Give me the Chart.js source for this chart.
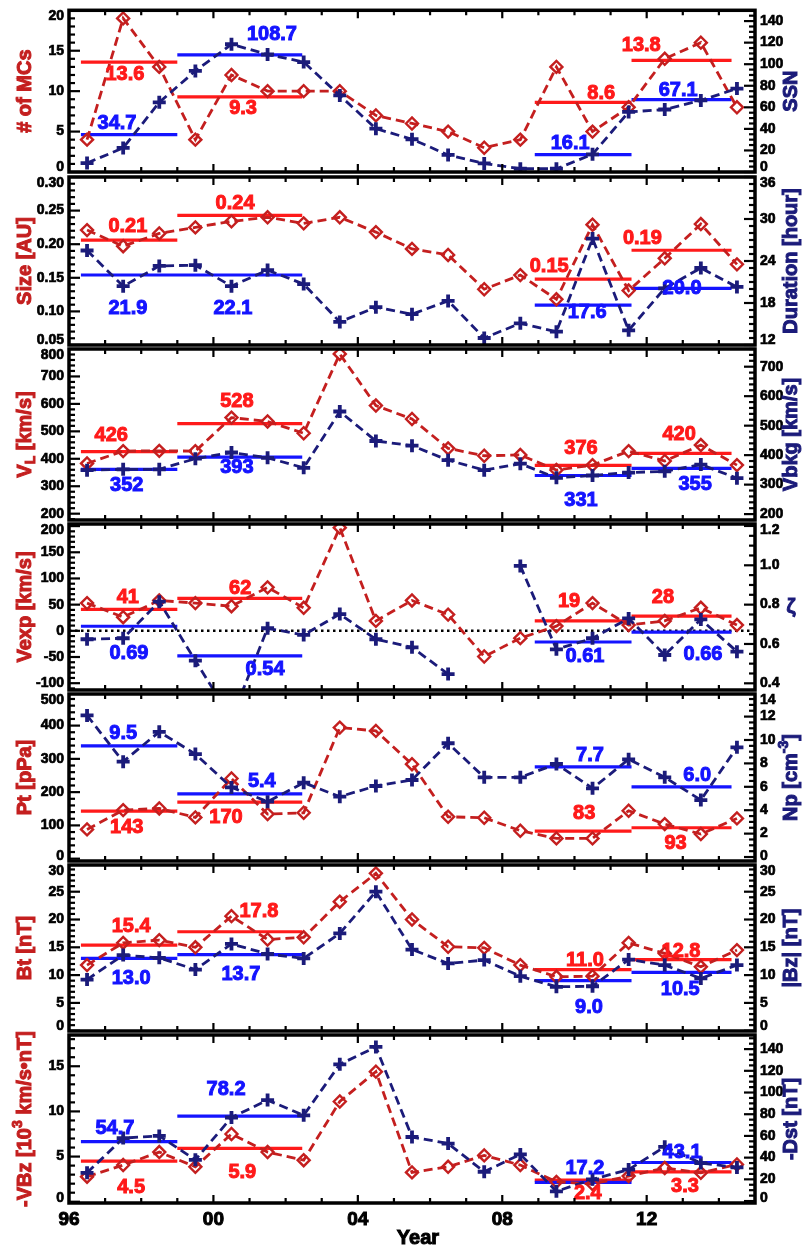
<!DOCTYPE html>
<html>
<head>
<meta charset="utf-8">
<script src="https://cdn.jsdelivr.net/npm/chart.js@4.4.1/dist/chart.umd.min.js"></script>
<style>
  body { margin: 0; background: #fff; }
  #wrap { position: relative; width: 804px; height: 1249px; }
  #wrap canvas { position: absolute; left: 0; top: 0; }
</style>
</head>
<body>
<div id="wrap"></div>
<script>
// ---- data ----
const years = [1996.5, 1997.5, 1998.5, 1999.5, 2000.5, 2001.5, 2002.5, 2003.5, 2004.5, 2005.5,
               2006.5, 2007.5, 2008.5, 2009.5, 2010.5, 2011.5, 2012.5, 2013.5, 2014.5];
const xTickValues = [1996, 2000, 2004, 2008, 2012];
const xTickLabels = ['96', '00', '04', '08', '12'];

// the four averaging intervals
const segStart = [1996.33, 1999.0, 2008.9, 2011.58];
const segEnd = [1999.0, 2002.46, 2011.58, 2014.35];

// panel 1: number of MCs / sunspot number
const mcCount = [4, 19, 13, 4, 12, 10, 10, 10, 7, 6, 5, 3, 4, 13, 5, 8, 14, 16, 8];
const ssn = [8.3, 22.3, 64.6, 93.8, 118.5, 109, 102, 71, 40.2, 30.4, 15.8, 8, 3, 3, 16.4, 55.7, 58, 66.4, 77.4];
const mcAvg = [13.6, 9.3, 8.6, 13.8];
const mcAvgText = ['13.6', '9.3', '8.6', '13.8'];
const ssnAvg = [34.7, 108.7, 16.1, 67.1];
const ssnAvgText = ['34.7', '108.7', '16.1', '67.1'];
const mcTicks = [0, 5, 10, 15, 20];
const ssnTicks = [0, 20, 40, 60, 80, 100, 120, 140];

// panel 2: size / duration
const mcSize = [0.221, 0.197, 0.216, 0.225, 0.234, 0.240, 0.231, 0.240, 0.218, 0.193,
                0.184, 0.133, 0.154, 0.118, 0.229, 0.131, 0.179, 0.230, 0.170];
const duration = [25.5, 20.4, 23.3, 23.4, 20.4, 22.7, 20.7, 15.3, 17.4, 16.4,
                  18.3, 13.0, 15.1, 13.9, 27.2, 14.1, 20.1, 23.0, 20.3];
const sizeAvg = [0.206, 0.243, 0.148, 0.191];
const sizeAvgText = ['0.21', '0.24', '0.15', '0.19'];
const durAvg = [22.0, 22.0, 17.7, 20.1];
const durAvgText = ['21.9', '22.1', '17.6', '20.0'];
const sizeTicks = [0.05, 0.10, 0.15, 0.20, 0.25, 0.30];
const durTicks = [12, 18, 24, 30, 36];

// panel 3: V_L / Vbkg
const vL = [383, 428, 429, 428, 550, 536, 493, 782, 594, 545, 438, 411, 414, 359, 377, 428, 392, 450, 377];
const vBkg = [349, 352, 352, 388, 409, 391, 357, 548, 448, 432, 383, 349, 371, 323, 331, 341, 345, 368, 322];
const vLAvg = [426, 528, 376, 420];
const vLAvgText = ['426', '528', '376', '420'];
const vBkgAvg = [352, 393, 331, 355];
const vBkgAvgText = ['352', '393', '331', '355'];
const vLTicks = [200, 300, 400, 500, 600, 700, 800];
const vBkgTicks = [200, 300, 400, 500, 600, 700];

// panel 4: Vexp / zeta
const vExp = [53, 26, 58, 53, 47, 83, 44, 197, 19, 58, 31, -49, -14, 9, 53, 11, 19, 44, 11];
const zeta = [0.624, 0.629, 0.815, 0.515, 0.22, 0.68, 0.646, 0.752, 0.624, 0.583,
              0.447, null, 0.997, 0.573, 0.629, 0.73, 0.544, 0.725, 0.561];
const vExpAvg = [41, 62, 19, 28];
const vExpAvgText = ['41', '62', '19', '28'];
const zetaAvg = [0.69, 0.54, 0.61, 0.66];
const zetaAvgText = ['0.69', '0.54', '0.61', '0.66'];
const vExpRef = 0;
const vExpTicks = [-100, -50, 0, 50, 100, 150, 200];
const zetaTicks = [0.4, 0.6, 0.8, 1.0, 1.2];

// panel 5: Pt / Np
const pT = [88, 146, 151, 124, 241, 134, 138, 394, 384, 284, 126, 123, 84, 61, 61, 144, 104, 74, 121];
const nP = [12.1, 8.15, 10.7, 8.8, 5.95, 4.73, 6.35, 5.16, 6.07, 6.58,
            9.72, 6.81, 6.81, 7.95, 5.87, 8.35, 6.81, 4.87, 9.37];
const pTAvg = [143, 170, 83, 93];
const pTAvgText = ['143', '170', '83', '93'];
const nPAvg = [9.5, 5.4, 7.7, 6.0];
const nPAvgText = ['9.5', '5.4', '7.7', '6.0'];
const pTTicks = [0, 100, 200, 300, 400, 500];
const nPTicks = [0, 2, 4, 6, 8, 10, 12, 14];

// panel 6: Bt / |Bz|
const bT = [11.8, 15.8, 16.3, 15.0, 20.6, 16.4, 16.8, 23.2, 28.3, 20.0,
            15.1, 14.9, 11.8, 9.7, 9.8, 15.8, 13.9, 11.5, 14.5];
const bZ = [9.2, 13.6, 13.1, 11.0, 15.6, 13.8, 13.0, 17.5, 25.0, 14.6,
            12.1, 12.7, 9.8, 7.9, 8.0, 12.8, 11.8, 9.4, 11.8];
const bTAvg = [15.4, 17.8, 11.0, 12.8];
const bTAvgText = ['15.4', '17.8', '11.0', '12.8'];
const bZAvg = [13.0, 13.7, 9.0, 10.5];
const bZAvgText = ['13.0', '13.7', '9.0', '10.5'];
const bTicks = [0, 5, 10, 15, 20, 25, 30];

// panel 7: -VBz / -Dst
const vBz = [2.77, 4.06, 5.5, 3.87, 7.5, 5.5, 4.6, 11.1, 14.4, 3.25,
             3.87, 5.13, 4.06, 2.2, 1.96, 2.84, 3.73, 3.2, 4.13];
const dst = [26, 58, 60, 38, 77, 93, 79, 126, 142, 59, 53, 27, 43, 9, 20, 29, 50, 35, 31];
const vBzAvg = [4.5, 5.9, 2.4, 3.3];
const vBzAvgText = ['4.5', '5.9', '2.4', '3.3'];
const dstAvg = [54.7, 78.2, 17.2, 35.5];
const dstAvgText = ['54.7', '78.2', '17.2', '43.1'];
const vBzTicks = [0, 5, 10, 15];
const dstTicks = [0, 20, 40, 60, 80, 100, 120, 140];

// ---- styles / layout ----
const FONT = "'Liberation Sans', Arial, Helvetica, sans-serif";
const DARK_RED = '#c41f1f';
const RED = '#ff1a1a';
const NAVY = '#1b1b7a';
const BLUE = '#1414ff';
const PLOT_LEFT = 69, PLOT_RIGHT = 755;
const tops = [5, 177, 349, 524, 694, 865, 1035];
const bottoms = [172, 345, 520, 690, 861, 1031, 1203];

Chart.defaults.font.family = FONT;

const panels = [
  {
    red: mcCount, blue: ssn, redAvg: mcAvg, redText: mcAvgText, blueAvg: ssnAvg, blueText: ssnAvgText,
    left: { min: 0, max: 20, ticks: mcTicks, minor: 1, dec: 0, title: [{ t: '# of MCs' }] },
    right: { min: 0, max: 150, ticks: ssnTicks, minor: 5, dec: 0, title: [{ t: 'SSN' }] },
    redLab: [[1997.55, 12], [2000.82, 12], [2010.74, -9], [2011.85, -15]],
    blueLab: [[1997.33, -11], [2001.62, -20], [2009.88, -11], [2012.87, -9]]
  },
  {
    red: mcSize, blue: duration, redAvg: sizeAvg, redText: sizeAvgText, blueAvg: durAvg, blueText: durAvgText,
    left: { min: 0.05, max: 0.30, ticks: sizeTicks, minor: 0.01, dec: 2, title: [{ t: 'Size [AU]' }] },
    right: { min: 12, max: 36, ticks: durTicks, minor: 1, dec: 0, title: [{ t: 'Duration [hour]' }] },
    redLab: [[1997.63, -14], [2000.6, -12], [2009.3, -13], [2011.88, -12]],
    blueLab: [[1997.63, 33], [2000.54, 33], [2010.35, 7], [2012.98, 0]]
  },
  {
    red: vL, blue: vBkg, redAvg: vLAvg, redText: vLAvgText, blueAvg: vBkgAvg, blueText: vBkgAvgText,
    left: { min: 177, max: 800, ticks: vLTicks, minor: 20, dec: 0, title: [{ t: 'V' }, { t: 'L', sub: true }, { t: ' [km/s]' }] },
    right: { min: 180, max: 760, ticks: vBkgTicks, minor: 20, dec: 0, title: [{ t: 'Vbkg [km/s]' }] },
    redLab: [[1997.17, -16], [2000.65, -22], [2010.18, -17], [2012.9, -19]],
    blueLab: [[1997.6, 16], [2000.65, 10], [2010.18, 25], [2013.34, 16]]
  },
  {
    red: vExp, blue: zeta, redAvg: vExpAvg, redText: vExpAvgText, blueAvg: zetaAvg, blueText: zetaAvgText,
    left: { min: -113, max: 204, ticks: vExpTicks, minor: 10, dec: 0, title: [{ t: 'Vexp [km/s]' }] },
    right: { min: 0.366, max: 1.21, ticks: zetaTicks, minor: 0.05, dec: 1, title: [{ t: 'ζ' }], upright: true },
    zeroRef: true,
    redLab: [[1997.63, -12], [2000.74, -10], [2009.85, -19], [2012.45, -19]],
    blueLab: [[1997.66, 27], [2001.43, 14], [2010.29, 14], [2013.56, 22]]
  },
  {
    red: pT, blue: nP, redAvg: pTAvg, redText: pTAvgText, blueAvg: nPAvg, blueText: nPAvgText,
    left: { min: -7, max: 495, ticks: pTTicks, minor: 20, dec: 0, title: [{ t: 'Pt [pPa]' }] },
    right: { min: -0.34, max: 13.93, ticks: nPTicks, minor: 0.5, dec: 0, title: [{ t: 'Np [cm' }, { t: '-3', sup: true }, { t: ']' }] },
    redLab: [[1997.6, 16], [2000.35, 15], [2010.27, -18], [2012.8, 16]],
    blueLab: [[1997.5, -12], [2001.34, -12], [2010.43, -11], [2013.4, -11]]
  },
  {
    red: bT, blue: bZ, redAvg: bTAvg, redText: bTAvgText, blueAvg: bZAvg, blueText: bZAvgText,
    left: { min: -0.05, max: 29.8, ticks: bTicks, minor: 1, dec: 0, title: [{ t: 'Bt [nT]' }] },
    right: { min: -0.05, max: 29.8, ticks: bTicks, minor: 1, dec: 0, title: [{ t: '|Bz| [nT]' }] },
    redLab: [[1997.72, -19], [2001.26, -20], [2010.29, -9], [2012.95, -8]],
    blueLab: [[1997.72, 20], [2000.76, 20], [2010.4, 27], [2012.93, 17]]
  },
  {
    red: vBz, blue: dst, redAvg: vBzAvg, redText: vBzAvgText, blueAvg: dstAvg, blueText: dstAvgText,
    left: { min: -0.14, max: 18.46, ticks: vBzTicks, minor: 1, dec: 0, title: [{ t: '-VBz [10' }, { t: '3', sup: true }, { t: ' km/s•nT]' }] },
    right: { min: -1.8, max: 153, ticks: dstTicks, minor: 5, dec: 0, title: [{ t: '-Dst [nT]' }] },
    redLab: [[1997.72, 26], [2000.8, 24], [2010.37, 13], [2013.06, 15]],
    blueLab: [[1997.27, -13], [2000.35, -27], [2010.29, -14], [2012.98, -10]],
    xLabels: true
  }
];

function points(vals) {
  return years.map((x, i) => ({ x, y: vals[i] }));
}

function segments(vals) {
  const d = [];
  vals.forEach((v, i) => {
    d.push({ x: segStart[i], y: v }, { x: segEnd[i], y: v }, { x: segEnd[i], y: null });
  });
  return d;
}

// heavy text: fill plus a thin stroke of the same colour
function heavyText(ctx, text, x, y, weight) {
  ctx.fillText(text, x, y);
  ctx.lineWidth = weight;
  ctx.strokeStyle = ctx.fillStyle;
  ctx.strokeText(text, x, y);
}

// rich text (sub/superscripts), drawn rotated or not, centred on cx, cy
function richText(ctx, parts, cx, cy, rotate, color) {
  ctx.save();
  ctx.translate(cx, cy);
  if (rotate) ctx.rotate(-Math.PI / 2);
  ctx.fillStyle = color;
  ctx.textBaseline = 'middle';
  ctx.textAlign = 'left';
  const fontOf = p => (p.sub || p.sup) ? 'bold 14px ' + FONT : 'bold 20px ' + FONT;
  let total = 0;
  parts.forEach(p => { ctx.font = fontOf(p); total += ctx.measureText(p.t).width; });
  let x = -total / 2;
  parts.forEach(p => {
    ctx.font = fontOf(p);
    const dy = p.sub ? 6 : (p.sup ? -7 : 0);
    heavyText(ctx, p.t, x, dy, 1);
    x += ctx.measureText(p.t).width;
  });
  ctx.restore();
}

function makeDecor(p) {
  return {
    id: 'decor',
    afterDatasetsDraw(chart) {
      const ctx = chart.ctx;
      const a = chart.chartArea;
      const xs = chart.scales.x, yL = chart.scales.yL, yR = chart.scales.yR;
      ctx.save();

      // mean values
      ctx.font = 'bold 20px ' + FONT;
      ctx.textAlign = 'center';
      ctx.textBaseline = 'middle';
      ctx.fillStyle = RED;
      p.redLab.forEach(([yr, dy], i) => {
        heavyText(ctx, p.redText[i], xs.getPixelForValue(yr), yL.getPixelForValue(p.redAvg[i]) + dy, 1);
      });
      ctx.fillStyle = BLUE;
      p.blueLab.forEach(([yr, dy], i) => {
        heavyText(ctx, p.blueText[i], xs.getPixelForValue(yr), yR.getPixelForValue(p.blueAvg[i]) + dy, 1);
      });

      // frame
      ctx.strokeStyle = '#000';
      ctx.lineWidth = 3.5;
      ctx.strokeRect(a.left, a.top, a.right - a.left, a.bottom - a.top);

      // inward tick marks
      ctx.lineWidth = 2.2;
      const yTicks = (scale, cfg, x0, dir) => {
        const n0 = Math.ceil(cfg.min / cfg.minor - 1e-6), n1 = Math.floor(cfg.max / cfg.minor + 1e-6);
        for (let n = n0; n <= n1; n++) {
          const v = n * cfg.minor;
          const major = cfg.ticks.some(t => Math.abs(t - v) < cfg.minor / 10);
          const py = scale.getPixelForValue(v);
          ctx.beginPath();
          ctx.moveTo(x0, py);
          ctx.lineTo(x0 + dir * (major ? 11 : 6), py);
          ctx.stroke();
        }
      };
      yTicks(yL, p.left, a.left, 1);
      yTicks(yR, p.right, a.right, -1);
      for (let yr = 1997; yr <= 2014; yr++) {
        const major = xTickValues.includes(yr);
        const px = xs.getPixelForValue(yr);
        const len = major ? 8 : 5;
        ctx.beginPath();
        ctx.moveTo(px, a.top); ctx.lineTo(px, a.top + len);
        ctx.moveTo(px, a.bottom); ctx.lineTo(px, a.bottom - len);
        ctx.stroke();
      }

      // tick labels
      ctx.fillStyle = '#000';
      ctx.font = 'bold 14px ' + FONT;
      ctx.textBaseline = 'middle';
      const clampY = py => Math.min(Math.max(py, a.top + 6), a.bottom - 5);
      ctx.textAlign = 'right';
      p.left.ticks.forEach(v => {
        heavyText(ctx, v.toFixed(p.left.dec), a.left - 5, clampY(yL.getPixelForValue(v)), 0.7);
      });
      ctx.textAlign = 'left';
      p.right.ticks.forEach(v => {
        heavyText(ctx, v.toFixed(p.right.dec), a.right + 5, clampY(yR.getPixelForValue(v)), 0.7);
      });

      // axis titles
      const cy = (a.top + a.bottom) / 2;
      richText(ctx, p.left.title, 25, cy, true, DARK_RED);
      richText(ctx, p.right.title, 791, cy, !p.right.upright, NAVY);

      // year axis
      if (p.xLabels) {
        ctx.fillStyle = '#000';
        ctx.font = 'bold 19px ' + FONT;
        ctx.textAlign = 'center';
        xTickValues.forEach((v, i) => {
          heavyText(ctx, xTickLabels[i], xs.getPixelForValue(v), a.bottom + 17, 1);
        });
        ctx.font = 'bold 20px ' + FONT;
        heavyText(ctx, 'Year', 418, a.bottom + 35, 1);
      }
      ctx.restore();
    }
  };
}

const wrap = document.getElementById('wrap');
panels.forEach((p, i) => {
  const canvas = document.createElement('canvas');
  canvas.width = 804;
  canvas.height = 1249;
  wrap.appendChild(canvas);

  const datasets = [
    {
      data: points(p.blue), yAxisID: 'yR', borderColor: NAVY, borderWidth: 2.8, borderDash: [9, 5],
      pointStyle: 'cross', pointRadius: 6.5, pointBorderWidth: 3.8, pointBorderColor: NAVY,
      pointBackgroundColor: NAVY, tension: 0, fill: false, spanGaps: false
    },
    {
      data: points(p.red), yAxisID: 'yL', borderColor: DARK_RED, borderWidth: 2.8, borderDash: [9, 5],
      pointStyle: 'rectRot', pointRadius: 6, pointBorderWidth: 2.4, pointBorderColor: DARK_RED,
      pointBackgroundColor: 'rgba(255,255,255,0)', tension: 0, fill: false
    },
    {
      data: segments(p.blueAvg), yAxisID: 'yR', borderColor: BLUE, borderWidth: 3.2,
      pointRadius: 0, fill: false, spanGaps: false
    },
    {
      data: segments(p.redAvg), yAxisID: 'yL', borderColor: RED, borderWidth: 3.2,
      pointRadius: 0, fill: false, spanGaps: false
    }
  ];
  if (p.zeroRef) {
    datasets.push({
      data: [{ x: 1996, y: vExpRef }, { x: 2015, y: vExpRef }], yAxisID: 'yL',
      borderColor: '#000', borderWidth: 2.5, borderDash: [2.5, 3.5], pointRadius: 0, fill: false
    });
  }

  new Chart(canvas, {
    type: 'line',
    data: { datasets },
    options: {
      responsive: false,
      animation: false,
      devicePixelRatio: 1,
      events: [],
      layout: {
        padding: { left: PLOT_LEFT, right: 804 - PLOT_RIGHT, top: tops[i], bottom: 1249 - bottoms[i] }
      },
      plugins: { legend: { display: false }, tooltip: { enabled: false } },
      scales: {
        x: { type: 'linear', min: 1996, max: 2015, display: false },
        yL: { type: 'linear', position: 'left', min: p.left.min, max: p.left.max, display: false },
        yR: { type: 'linear', position: 'right', min: p.right.min, max: p.right.max, display: false }
      }
    },
    plugins: [makeDecor(p)]
  });
});
</script>
</body>
</html>
